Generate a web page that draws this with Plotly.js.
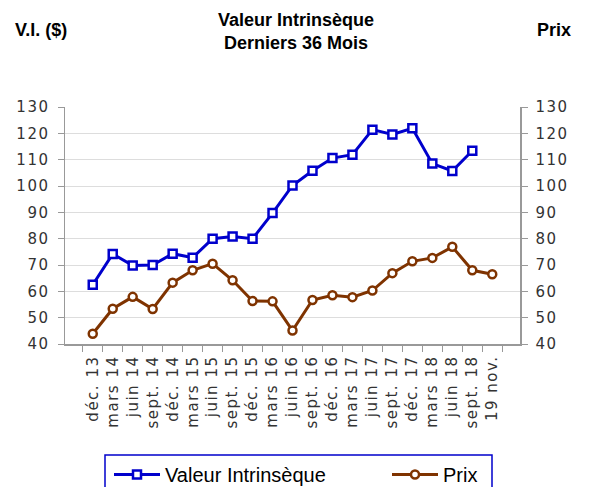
<!DOCTYPE html>
<html>
<head>
<meta charset="utf-8">
<script src="https://cdn.plot.ly/plotly-3.0.1.min.js"></script>
<style>
html,body{margin:0;padding:0;background:#fff;}
#chart{width:592px;height:487px;}
#chart .xtick text, #chart .ytick text, #chart .y2tick text{letter-spacing:1.5px;}
</style>
</head>
<body>
<div id="chart"></div>
<script>
const categories = ["déc. 13","mars 14","juin 14","sept. 14","déc. 14","mars 15","juin 15","sept. 15","déc. 15","mars 16","juin 16","sept. 16","déc. 16","mars 17","juin 17","sept. 17","déc. 17","mars 18","juin 18","sept. 18","19 nov."];
const valeurIntrinseque = [62.5,74.2,69.8,70,74.3,72.8,80,80.8,80,89.7,100.2,105.8,110.6,111.9,121.4,119.6,121.9,108.5,105.7,113.4,null];
const prix = [43.9,53.4,57.9,53.3,63.3,68,70.5,64.2,56.3,56.2,45.1,56.7,58.5,57.8,60.3,66.9,71.4,72.7,76.9,68,66.5];
const yTicks = [40,50,60,70,80,90,100,110,120,130];

const blue = "#0000cc";
const brown = "#7f3300";
const tickFont = {family:"DejaVu Sans", size:15, color:"#333"};
const boldFont = {family:"Liberation Sans", size:18, color:"#000"};
const legendFont = {family:"Liberation Sans", size:20, color:"#000"};

// pixel -> paper helpers (plot area: x 65..520, y 107..344)
const px = p => (p - 65) / 455;
const py = p => (344 - p) / 237;

const traces = [
  {x:categories, y:valeurIntrinseque, name:"Valeur Intrinsèque", type:"scatter", mode:"lines+markers",
   line:{color:blue, width:3}, marker:{symbol:"square", size:8, color:"#fff", line:{color:blue, width:2.5}},
   yaxis:"y", connectgaps:false, legend:"legend"},
  {x:categories, y:prix, name:"Prix", type:"scatter", mode:"lines+markers",
   line:{color:brown, width:3}, marker:{symbol:"circle", size:8, color:"#fff", line:{color:brown, width:2.5}},
   yaxis:"y2", legend:"legend2"}
];

const layout = {
  width:592, height:487,
  margin:{l:65, r:72, t:107, b:143, autoexpand:false},
  paper_bgcolor:"#fff", plot_bgcolor:"#fff",
  showlegend:true,
  title:{text:"<b>Valeur Intrinsèque</b><br><b>Derniers 36 Mois</b>", x:0.5, xref:"container", xanchor:"center",
         y:1-26/487, yref:"container", yanchor:"top", font:boldFont},
  xaxis:{type:"category", tickangle:-90, tickfont:tickFont, showline:true, linecolor:"#999", linewidth:1.5,
         ticks:"outside", ticklen:6, tickcolor:"#999", tickson:"boundaries", showgrid:false, zeroline:false,
         automargin:false, ticklabelstandoff:4},
  yaxis:{range:[40,130], tickvals:yTicks, tickfont:tickFont, showline:true, linecolor:"#999", linewidth:1.5,
         ticks:"outside", ticklen:6, tickcolor:"#999", gridcolor:"#ddd", gridwidth:1, zeroline:false,
         automargin:false, ticklabelstandoff:5},
  yaxis2:{range:[40,130], tickvals:yTicks, ticksuffix:" $", tickfont:tickFont, overlaying:"y", side:"right",
          showline:true, linecolor:"#999", linewidth:1.5, ticks:"outside", ticklen:6, tickcolor:"#999",
          showgrid:false, zeroline:false, automargin:false, ticklabelstandoff:5},
  legend:{orientation:"h", xref:"container", x:109/592, xanchor:"left", yref:"container", y:(487-455)/487, yanchor:"top",
          borderwidth:0, bgcolor:"rgba(0,0,0,0)", font:legendFont, itemwidth:46},
  legend2:{orientation:"h", xref:"container", x:387/592, xanchor:"left", yref:"container", y:(487-455)/487, yanchor:"top",
          borderwidth:0, bgcolor:"rgba(0,0,0,0)", font:legendFont, itemwidth:46},
  shapes:[
    {type:"rect", xref:"paper", yref:"paper", x0:px(105), x1:px(492), y0:py(455), y1:py(500),
     line:{color:blue, width:1.5}, fillcolor:"rgba(0,0,0,0)", layer:"below"}
  ],
  annotations:[
    {text:"<b>V.I. ($)</b>", xref:"paper", yref:"paper", x:px(13), xanchor:"left", y:py(30), yanchor:"middle",
     showarrow:false, font:boldFont},
    {text:"<b>Prix</b>", xref:"paper", yref:"paper", x:px(573), xanchor:"right", y:py(30), yanchor:"middle",
     showarrow:false, font:boldFont}
  ]
};

Plotly.newPlot("chart", traces, layout, {displayModeBar:false, staticPlot:true});
</script>
</body>
</html>
